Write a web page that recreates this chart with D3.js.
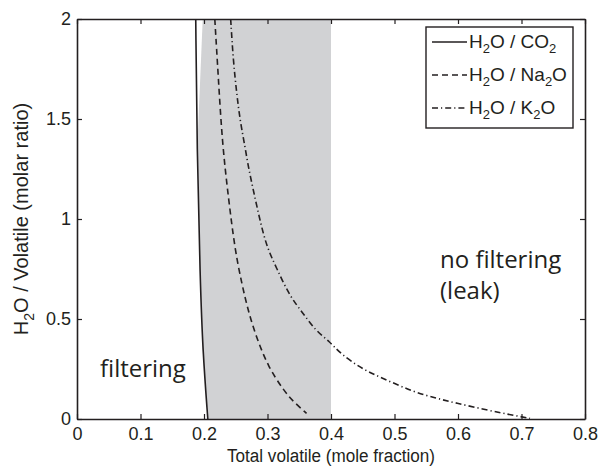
<!DOCTYPE html>
<html>
<head>
<meta charset="utf-8">
<script src="https://cdn.jsdelivr.net/npm/d3@7"></script>
<style>
  body { margin: 0; background: #fff; }
  text { fill: #231f20; }
</style>
</head>
<body>
<script>
// values
const xTicks = [0, 0.1, 0.2, 0.3, 0.4, 0.5, 0.6, 0.7, 0.8];
const yTicks = [0, 0.5, 1, 1.5, 2];

// H2O / CO2 (solid)
const co2X = [0.187, 0.189, 0.194, 0.198, 0.206];
const co2Y = [2.0, 1.345, 0.695, 0.345, 0];

// H2O / Na2O (dashed)
const na2oX = [0.217, 0.2225, 0.2288, 0.2383, 0.2488, 0.2594, 0.2698, 0.283, 0.301, 0.325, 0.3406, 0.3615];
const na2oY = [2.0, 1.71, 1.378, 1.11, 0.845, 0.679, 0.537, 0.404, 0.262, 0.145, 0.087, 0.028];

// H2O / K2O (dash-dot)
const k2oX = [0.242, 0.246, 0.2515, 0.2567, 0.2646, 0.2698, 0.2776, 0.288, 0.2987, 0.3145, 0.3354, 0.3564, 0.3748, 0.3984, 0.4142, 0.4509, 0.4877, 0.5296, 0.5665, 0.5953, 0.6452, 0.6924, 0.7134];
const k2oY = [2.0, 1.795, 1.628, 1.495, 1.361, 1.261, 1.145, 0.995, 0.861, 0.753, 0.611, 0.528, 0.445, 0.386, 0.328, 0.245, 0.195, 0.136, 0.103, 0.081, 0.045, 0.015, 0.0035];

// grey band (filtering window)
const bandX = [0.198, 0.190, 0.194, 0.198, 0.206, 0.4, 0.4];
const bandY = [2.0, 1.4, 0.695, 0.345, 0, 0, 2.0];

const width = 600, height = 466;
const margin = {top: 19, right: 15, bottom: 47, left: 77};

const svg = d3.select('body')
  .append('svg')
  .attr('width', width)
  .attr('height', height)
  .style('font-family', '"Liberation Sans", Arial, sans-serif');

const x = d3.scaleLinear().domain([0, 0.8]).range([margin.left, width - margin.right]);
const y = d3.scaleLinear().domain([0, 2]).range([height - margin.bottom, margin.top]);

const zip = (xs, ys) => xs.map((d, i) => [d, ys[i]]);

// shaded band
svg.append('path')
  .datum(zip(bandX, bandY))
  .attr('d', d3.line().x(d => x(d[0])).y(d => y(d[1])))
  .attr('fill', '#d1d2d4');

const line = d3.line()
  .x(d => x(d[0]))
  .y(d => y(d[1]))
  .curve(d3.curveBasis);

const series = [
  {xs: co2X, ys: co2Y, dash: null},
  {xs: na2oX, ys: na2oY, dash: '6,4'},
  {xs: k2oX, ys: k2oY, dash: '6,3,1.2,3'}
];

series.forEach(s => {
  svg.append('path')
    .datum(zip(s.xs, s.ys))
    .attr('d', line)
    .attr('fill', 'none')
    .attr('stroke', '#231f20')
    .attr('stroke-width', 1.6)
    .attr('stroke-dasharray', s.dash);
});

// axes, ticks inward like matlab
const fmt = d3.format('~g');
const styleAxis = g => {
  g.select('.domain').attr('stroke', '#231f20').attr('stroke-width', 1.6);
  g.selectAll('.tick line').attr('stroke', '#231f20').attr('stroke-width', 1.2);
  g.selectAll('.tick text').attr('fill', '#231f20').style('font-size', '18px');
};

svg.append('g')
  .attr('transform', `translate(0,${height - margin.bottom})`)
  .call(d3.axisBottom(x).tickValues(xTicks).tickFormat(fmt).tickSizeInner(-5).tickSizeOuter(0).tickPadding(8))
  .call(styleAxis);

svg.append('g')
  .attr('transform', `translate(0,${margin.top})`)
  .call(d3.axisTop(x).tickValues(xTicks).tickFormat('').tickSizeInner(-5).tickSizeOuter(0))
  .call(styleAxis);

svg.append('g')
  .attr('transform', `translate(${margin.left},0)`)
  .call(d3.axisLeft(y).tickValues(yTicks).tickFormat(fmt).tickSizeInner(-5).tickSizeOuter(0).tickPadding(6))
  .call(styleAxis);

svg.append('g')
  .attr('transform', `translate(${width - margin.right},0)`)
  .call(d3.axisRight(y).tickValues(yTicks).tickFormat('').tickSizeInner(-5).tickSizeOuter(0))
  .call(styleAxis);

// axis titles
svg.append('text')
  .attr('x', (margin.left + width - margin.right) / 2)
  .attr('y', 462)
  .attr('text-anchor', 'middle')
  .style('font-size', '18px')
  .attr('textLength', 208)
  .attr('lengthAdjust', 'spacingAndGlyphs')
  .text('Total volatile (mole fraction)');

const yl = svg.append('text')
  .attr('transform', `translate(28,${(margin.top + height - margin.bottom) / 2}) rotate(-90)`)
  .attr('text-anchor', 'middle')
  .style('font-size', '20px');
yl.append('tspan').text('H');
yl.append('tspan').attr('dy', 6).style('font-size', '14px').text('2');
yl.append('tspan').attr('dy', -6).text('O / Volatile (molar ratio)');

// annotations
const note = (tx, ty, s) => svg.append('text')
  .attr('x', tx).attr('y', ty)
  .style('font-family', '"Open Sans", sans-serif')
  .style('font-size', '24px')
  .text(s);
note(100, 377, 'filtering');
note(440, 268, 'no filtering');
note(440, 299, '(leak)');

// legend
const legend = svg.append('g');
legend.append('rect')
  .attr('x', 426).attr('y', 27)
  .attr('width', 147).attr('height', 101)
  .attr('fill', '#fff')
  .attr('stroke', '#231f20')
  .attr('stroke-width', 1.4);

const legendNames = ['CO', 'Na', 'K'];
const legendTails = ['2', '2O', '2O'];
series.forEach((s, i) => {
  const ly = 42 + i * 33;
  legend.append('line')
    .attr('x1', 432).attr('x2', 467)
    .attr('y1', ly).attr('y2', ly)
    .attr('stroke', '#231f20')
    .attr('stroke-width', 1.4)
    .attr('stroke-dasharray', s.dash);
  const t = legend.append('text')
    .attr('x', 469).attr('y', ly + 6)
    .style('font-size', '19px');
  t.append('tspan').text('H');
  t.append('tspan').attr('dy', 5).style('font-size', '13px').text('2');
  t.append('tspan').attr('dy', -5).text('O / ' + legendNames[i]);
  t.append('tspan').attr('dy', 5).style('font-size', '13px').text('2');
  if (legendTails[i] === '2O') t.append('tspan').attr('dy', -5).text('O');
});
</script>
</body>
</html>
